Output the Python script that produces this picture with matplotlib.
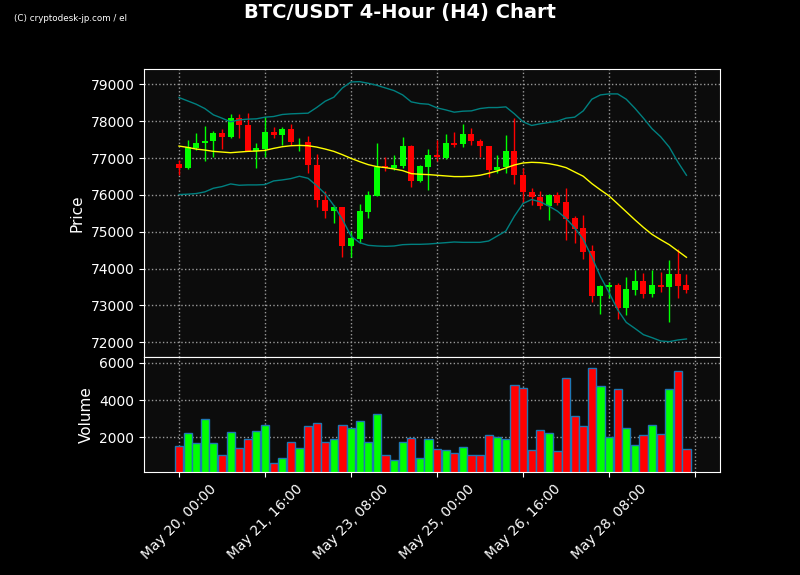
import matplotlib.pyplot as plt
import numpy as np

plt.rcParams['font.size'] = 10

# 4-hour candles, May 20 00:00 onwards
opens = [76847, 76721, 77279, 77396, 77450, 77685, 77559, 78081, 77901, 77198,
         77252, 77712, 77613, 77793, 77423, 77441, 76820, 75874, 75559, 75658,
         74613, 74793, 75532, 75982, 76775, 76739, 76775, 77333, 76369, 76766,
         77090, 77009, 77414, 77369, 77658, 77468, 77333, 76667, 76748, 77198,
         76541, 76090, 75955, 75694, 76009, 75793, 75360, 75090, 74468, 73261,
         73505, 73550, 72937, 73423, 73667, 73315, 73550, 73505, 73847, 73550]
closes = [76721, 77297, 77414, 77468, 77685, 77559, 78081, 77883, 77198, 77279,
          77712, 77613, 77793, 77423, 77441, 76802, 75856, 75559, 75658, 74613,
          74820, 75550, 76009, 76757, 76721, 76820, 77333, 76369, 76793, 77090,
          77018, 77414, 77360, 77658, 77450, 77315, 76667, 76766, 77198, 76532,
          76072, 75937, 75694, 76009, 75775, 75342, 75072, 74450, 73261, 73523,
          73550, 72937, 73441, 73667, 73315, 73550, 73505, 73847, 73532, 73423]
highs = [76955, 77487, 77685, 77865, 77730, 77784, 78189, 78189, 78216, 77414,
         78099, 77829, 77847, 77919, 77541, 77586, 77108, 76099, 75721, 75660,
         75018, 75757, 76099, 77405, 77018, 77072, 77568, 77360, 76811, 77243,
         77495, 77658, 77712, 77928, 77811, 77514, 77333, 77081, 77622, 78081,
         76730, 76198, 76108, 76018, 76072, 76189, 75432, 75441, 74631, 73560,
         73640, 73604, 73784, 73973, 73892, 73973, 73919, 74225, 74541, 73865]
lows = [76550, 76703, 77225, 76928, 77027, 77243, 77532, 77541, 77180, 76730,
        77018, 77532, 77342, 77342, 77189, 76595, 75676, 75378, 75243, 74324,
        74324, 74685, 75378, 75964, 76658, 76685, 76739, 76216, 76342, 76144,
        76928, 76982, 77297, 77297, 77360, 77027, 76486, 76595, 76595, 76306,
        75784, 75712, 75622, 75324, 75721, 74784, 74685, 74270, 73081, 72757,
        73189, 72631, 72748, 73270, 73207, 73234, 73378, 72541, 73207, 73351]
volumes = [1520, 2213, 1680, 3013, 1680, 1040, 2267, 1413, 1911, 2338,
           2693, 613, 880, 1733, 1413, 2587, 2800, 1733, 1893, 2693,
           2480, 2907, 1733, 3280, 1040, 773, 1733, 1947, 880, 1893,
           1360, 1307, 1182, 1502, 1075, 1040, 2107, 2000, 1893, 4809,
           4667, 1307, 2373, 2213, 1253, 5200, 3173, 2587, 5734, 4773,
           2000, 4613, 2480, 1573, 2107, 2640, 2160, 4613, 5573, 1360]

# 20-period moving average and bollinger bands (as shown)
ma = [77324, 77288, 77243, 77216, 77180, 77162, 77144, 77162, 77180, 77189,
      77207, 77261, 77306, 77333, 77342, 77333, 77297, 77243, 77180, 77090,
      76991, 76901, 76820, 76766, 76739, 76703, 76658, 76577, 76559, 76550,
      76532, 76514, 76496, 76496, 76505, 76532, 76586, 76649, 76730, 76811,
      76865, 76883, 76874, 76847, 76802, 76739, 76622, 76505, 76306, 76135,
      75973, 75757, 75541, 75324, 75117, 74928, 74784, 74649, 74477, 74306]
upper = [78640, 78550, 78459, 78342, 78171, 78081, 77982, 78036, 78054, 78063,
         78108, 78126, 78180, 78198, 78207, 78216, 78369, 78541, 78649, 78901,
         79063, 79072, 79027, 78973, 78901, 78829, 78712, 78523, 78477, 78459,
         78360, 78306, 78243, 78270, 78279, 78342, 78369, 78369, 78387, 78198,
         77982, 77883, 77928, 77964, 78000, 78081, 78108, 78279, 78595, 78712,
         78739, 78739, 78595, 78351, 78081, 77793, 77577, 77297, 76892, 76532]
lower = [76009, 76018, 76036, 76081, 76180, 76225, 76297, 76261, 76270, 76270,
         76279, 76378, 76405, 76441, 76505, 76450, 76252, 76027, 75712, 75333,
         74883, 74703, 74631, 74613, 74604, 74613, 74649, 74658, 74658, 74667,
         74685, 74703, 74721, 74712, 74712, 74712, 74748, 74883, 75018, 75423,
         75766, 75874, 75811, 75694, 75559, 75360, 75108, 74793, 74315, 73784,
         73351, 72883, 72541, 72378, 72207, 72126, 72036, 72018, 72063, 72090]

tick_pos = [0, 10, 20, 30, 40, 50, 60]
tick_labels = ["May 20, 00:00", "May 21, 16:00", "May 23, 08:00",
               "May 25, 00:00", "May 26, 16:00", "May 28, 08:00", ""]

o = np.array(opens)
c = np.array(closes)
x = np.arange(len(o))
colors = np.where(c >= o, '#00ff00', '#ff0000')

fig = plt.figure(figsize=(8, 5.75), facecolor='black')
ax = fig.add_axes([0.18, 0.3786, 0.72, 0.5009])
axv = fig.add_axes([0.18, 0.1791, 0.72, 0.1995], sharex=ax)

for a in (ax, axv):
    a.set_facecolor('#0c0c0c')
    for s in a.spines.values():
        s.set_color('white')
    a.tick_params(colors='white', labelsize=10)
    a.grid(True, linestyle=':', color='#999999', linewidth=1)
    a.set_axisbelow(True)

# candles
ax.vlines(x, lows, highs, colors=colors, linewidth=1)
ax.bar(x, np.abs(c - o), bottom=np.minimum(o, c), width=0.7, color=colors)
ax.plot(x, upper, color='teal', linewidth=1)
ax.plot(x, lower, color='teal', linewidth=1)
ax.plot(x, ma, color='yellow', linewidth=1)
ax.set_ylim(71593, 79407)
ax.set_ylabel('Price', color='white', fontsize=11)
ax.tick_params(axis='x', bottom=False, labelbottom=False)

# volume
axv.bar(x, volumes, width=0.95, color=colors, edgecolor='#1f77b4', linewidth=1)
axv.set_ylim(150, 6290)
axv.set_yticks([2000, 4000, 6000])
axv.set_ylabel('Volume', color='white', fontsize=11)
axv.set_xticks(tick_pos)
axv.set_xticklabels(tick_labels, rotation=45)
axv.set_xlim(-4.07, 62.9)

fig.suptitle('BTC/USDT 4-Hour (H4) Chart', color='white', fontsize=14,
             fontweight='bold', y=0.995)
fig.text(0.018, 0.963, '(C) cryptodesk-jp.com / el', color='white', fontsize=6.3)

plt.savefig('out.png', dpi=100, facecolor='black')
